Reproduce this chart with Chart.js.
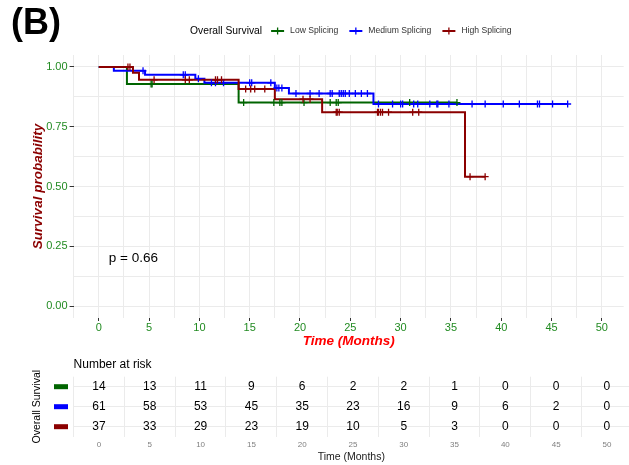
<!DOCTYPE html>
<html>
<head>
<meta charset="utf-8">
<script src="https://cdn.jsdelivr.net/npm/chart.js@4"></script>
<style>
  body { margin: 0; background: #fff; }
  #wrap { position: relative; width: 629px; height: 465px; overflow: hidden; background: #fff; }
  #km { position: absolute; left: 0; top: 0; }
  #risk { position: absolute; left: 0; top: 352px; }
  #tag { position: absolute; left: 11px; top: 4px; font: bold 36px 'Liberation Sans', Arial, sans-serif; line-height: 36px; }
</style>
</head>
<body>
<div id="wrap">
  <canvas id="km" width="629" height="352"></canvas>
  <canvas id="risk" width="629" height="113"></canvas>
  <div id="tag">(B)</div>
</div>
<script>
const FONT = "'Liberation Sans', Arial, sans-serif";
Chart.defaults.font.family = FONT;

const groups = ['Low Splicing', 'Medium Splicing', 'High Splicing'];
const groupColors = ['#006400', '#0000FF', '#8B0000'];

// KM steps (time in months, survival after the step)
const lowTimes = [0, 2.8, 13.9, 35.6];
const lowSurv = [1, 0.929, 0.851, 0.851];
const lowCensor = [5.2, 5.3, 14.4, 17.4, 18.0, 18.2, 20.4, 23.0, 23.6, 23.8, 30.9, 35.6];

const medTimes = [0, 1.5, 4.6, 9.6, 10.5, 17.5, 18.9, 27.3, 46.6];
const medSurv = [1, 0.984, 0.967, 0.951, 0.934, 0.912, 0.889, 0.845, 0.845];
const medCensor = [4.4, 8.4, 8.6, 9.9, 11.2, 11.6, 12.4, 15.0, 15.2, 17.1, 17.7, 17.9, 18.2,
  19.6, 21.0, 21.9, 23.0, 23.2, 23.9, 24.1, 24.3, 24.5, 24.9, 25.5, 26.1, 26.7,
  27.8, 29.2, 30.0, 30.2, 31.3, 31.7, 32.9, 33.6, 33.7, 34.8, 37.1, 38.4,
  40.2, 41.8, 43.6, 43.8, 45.1, 46.6];

const highTimes = [0, 3.4, 4.0, 13.9, 17.5, 22.2, 36.4, 38.4];
const highSurv = [1, 0.976, 0.946, 0.908, 0.865, 0.811, 0.541, 0.541];
const highCensor = [2.9, 3.1, 5.5, 8.6, 9.0, 11.6, 11.8, 12.2, 14.6, 15.1, 15.5, 16.5,
  20.3, 21.0, 23.6, 23.7, 23.9, 27.7, 27.8, 28.0, 28.2, 28.8, 31.2, 31.8, 36.9, 38.4];

// number at risk
const riskTimes = [0, 5, 10, 15, 20, 25, 30, 35, 40, 45, 50];
const riskLow = [14, 13, 11, 9, 6, 2, 2, 1, 0, 0, 0];
const riskMedium = [61, 58, 53, 45, 35, 23, 16, 9, 6, 2, 0];
const riskHigh = [37, 33, 29, 23, 19, 10, 5, 3, 0, 0, 0];

const xTicks = [-2.5, 0, 2.5, 5, 7.5, 10, 12.5, 15, 17.5, 20, 22.5, 25, 27.5, 30, 32.5, 35, 37.5, 40, 42.5, 45, 47.5, 50];
const yTicks = [0, 0.125, 0.25, 0.375, 0.5, 0.625, 0.75, 0.875, 1];

const pvalText = 'p = 0.66';
const pvalX = 1;
const pvalY = 0.2;

const X_MIN = -2.5, X_MAX = 52.17;
const LEFT_W = 73.6;

function survAt(times, surv, t) {
  let s = surv[0];
  for (let i = 0; i < times.length; i++) {
    if (times[i] <= t) s = surv[i];
  }
  return s;
}

function curve(times, surv, color, order) {
  return {
    data: times.map((t, i) => ({ x: t, y: surv[i] })),
    borderColor: color,
    borderWidth: 2,
    stepped: 'before',
    pointRadius: 0,
    fill: false,
    order: order
  };
}

function censors(times, surv, cens, color, order) {
  return {
    data: cens.map(t => ({ x: t, y: survAt(times, surv, t) })),
    showLine: false,
    pointStyle: 'cross',
    pointRadius: 3.5,
    pointBorderColor: color,
    borderColor: color,
    pointBorderWidth: 1.3,
    order: order
  };
}

const isMajorX = v => Math.abs(v % 5) < 1e-9;
const isMajorY = v => Math.abs(v * 4 - Math.round(v * 4)) < 1e-9;

// p-value and legend
const kmExtras = {
  id: 'kmExtras',
  afterDraw(chart) {
    const ctx = chart.ctx;
    const xs = chart.scales.x, ys = chart.scales.y;
    ctx.save();
    ctx.fillStyle = '#000';
    ctx.font = '13.5px ' + FONT;
    ctx.textAlign = 'left';
    ctx.textBaseline = 'middle';
    ctx.fillText(pvalText, xs.getPixelForValue(pvalX), ys.getPixelForValue(pvalY));

    // legend
    const y = 31;
    const titleFont = '10.3px ' + FONT, itemFont = '8.6px ' + FONT;
    ctx.font = titleFont;
    const titleW = ctx.measureText('Overall Survival').width;
    ctx.font = itemFont;
    const itemW = groups.map(g => ctx.measureText(g).width);
    let x = 190;
    ctx.font = titleFont;
    ctx.fillStyle = '#000';
    ctx.fillText('Overall Survival', x, y);
    x += titleW + 9;
    groups.forEach((g, i) => {
      ctx.strokeStyle = groupColors[i];
      ctx.lineWidth = 2;
      ctx.beginPath(); ctx.moveTo(x, y); ctx.lineTo(x + 13, y); ctx.stroke();
      ctx.lineWidth = 1.3;
      ctx.beginPath(); ctx.moveTo(x + 6.5, y - 3.5); ctx.lineTo(x + 6.5, y + 3.5); ctx.stroke();
      x += 13 + 6;
      ctx.font = itemFont;
      ctx.fillStyle = '#333';
      ctx.fillText(g, x, y);
      x += itemW[i] + 11;
    });
    ctx.restore();
  }
};

new Chart(document.getElementById('km'), {
  type: 'line',
  data: {
    datasets: [
      curve(lowTimes, lowSurv, groupColors[0], 5),
      curve(medTimes, medSurv, groupColors[1], 4),
      curve(highTimes, highSurv, groupColors[2], 3),
      censors(lowTimes, lowSurv, lowCensor, groupColors[0], 2),
      censors(medTimes, medSurv, medCensor, groupColors[1], 1),
      censors(highTimes, highSurv, highCensor, groupColors[2], 0)
    ]
  },
  options: {
    responsive: false,
    animation: false,
    layout: { padding: { top: 55, left: 0, right: 0, bottom: 0 } },
    plugins: { legend: { display: false }, tooltip: { enabled: false } },
    scales: {
      x: {
        type: 'linear',
        min: X_MIN,
        max: X_MAX,
        afterBuildTicks: ax => { ax.ticks = xTicks.map(v => ({ value: v })); },
        afterFit: ax => { ax.height = 34; },
        border: { display: false },
        grid: {
          color: '#ebebeb',
          lineWidth: 1,
          tickLength: 3,
          tickColor: c => (c.tick && isMajorX(c.tick.value)) ? '#333' : 'rgba(0,0,0,0)'
        },
        ticks: {
          autoSkip: false,
          maxRotation: 0,
          padding: 0,
          color: '#228B22',
          font: { size: 11 },
          callback: v => isMajorX(v) ? String(v) : ''
        },
        title: {
          display: true,
          text: 'Time (Months)',
          color: '#FF0000',
          font: { size: 13.5, weight: 'bold', style: 'italic' },
          padding: { top: 0, bottom: 3 }
        }
      },
      y: {
        type: 'linear',
        min: -0.05,
        max: 1.05,
        afterBuildTicks: ax => { ax.ticks = yTicks.map(v => ({ value: v })); },
        afterFit: ax => { ax.width = LEFT_W; },
        border: { display: false },
        grid: {
          color: '#ebebeb',
          lineWidth: 1,
          tickLength: 4,
          tickColor: c => (c.tick && isMajorY(c.tick.value)) ? '#333' : 'rgba(0,0,0,0)'
        },
        ticks: {
          autoSkip: false,
          padding: 2,
          color: '#228B22',
          font: { size: 11 },
          callback: v => isMajorY(v) ? v.toFixed(2) : ''
        },
        title: {
          display: true,
          text: 'Survival probability',
          color: '#8B0000',
          font: { size: 13.5, weight: 'bold', style: 'italic' },
          padding: { top: 30, bottom: 0 }
        }
      }
    }
  },
  plugins: [kmExtras]
});

// risk table
const riskCounts = [riskLow, riskMedium, riskHigh];

const riskText = {
  id: 'riskText',
  afterDraw(chart) {
    const ctx = chart.ctx;
    const ys = chart.scales.y;
    ctx.save();
    ctx.font = '12px ' + FONT;
    ctx.fillStyle = '#000';
    ctx.textAlign = 'center';
    ctx.textBaseline = 'middle';
    chart.data.datasets.forEach((ds, d) => {
      chart.getDatasetMeta(d).data.forEach((pt, i) => {
        ctx.fillText(String(riskCounts[d][i]), pt.x, pt.y);
      });
    });
    groups.forEach((g, i) => {
      ctx.fillStyle = groupColors[i];
      ctx.fillRect(54, ys.getPixelForValue(i) - 2.5, 14, 5);
    });
    ctx.fillStyle = '#000';
    ctx.textAlign = 'left';
    ctx.fillText('Number at risk', chart.chartArea.left, 12.5);
    ctx.restore();
  }
};

new Chart(document.getElementById('risk'), {
  type: 'scatter',
  data: {
    datasets: riskCounts.map((counts, d) => ({
      data: riskTimes.map(t => ({ x: t, y: groups[d] })),
      pointRadius: 0,
      showLine: false
    }))
  },
  options: {
    responsive: false,
    animation: false,
    layout: { padding: { top: 24.7, left: 0, right: 0, bottom: 0 } },
    plugins: { legend: { display: false }, tooltip: { enabled: false } },
    scales: {
      x: {
        type: 'linear',
        min: X_MIN,
        max: X_MAX,
        afterBuildTicks: ax => { ax.ticks = riskTimes.map(v => ({ value: v })); },
        afterFit: ax => { ax.height = 28.3; },
        border: { display: false },
        grid: { color: '#ebebeb', lineWidth: 1, offset: true, drawTicks: false },
        ticks: { autoSkip: false, maxRotation: 0, padding: 3.5, color: '#7f7f7f', font: { size: 8 } },
        title: {
          display: true,
          text: 'Time (Months)',
          color: '#1a1a1a',
          font: { size: 10.5 },
          padding: { top: 0, bottom: 2 }
        }
      },
      y: {
        type: 'category',
        labels: groups,
        offset: true,
        afterFit: ax => { ax.width = LEFT_W; },
        border: { display: false },
        grid: { color: '#ebebeb', lineWidth: 1, offset: false, drawTicks: false },
        ticks: { display: false },
        title: {
          display: true,
          text: 'Overall Survival',
          color: '#000',
          font: { size: 10.5 },
          padding: { top: 30.7, bottom: 0 }
        }
      }
    }
  },
  plugins: [riskText]
});
</script>
</body>
</html>
